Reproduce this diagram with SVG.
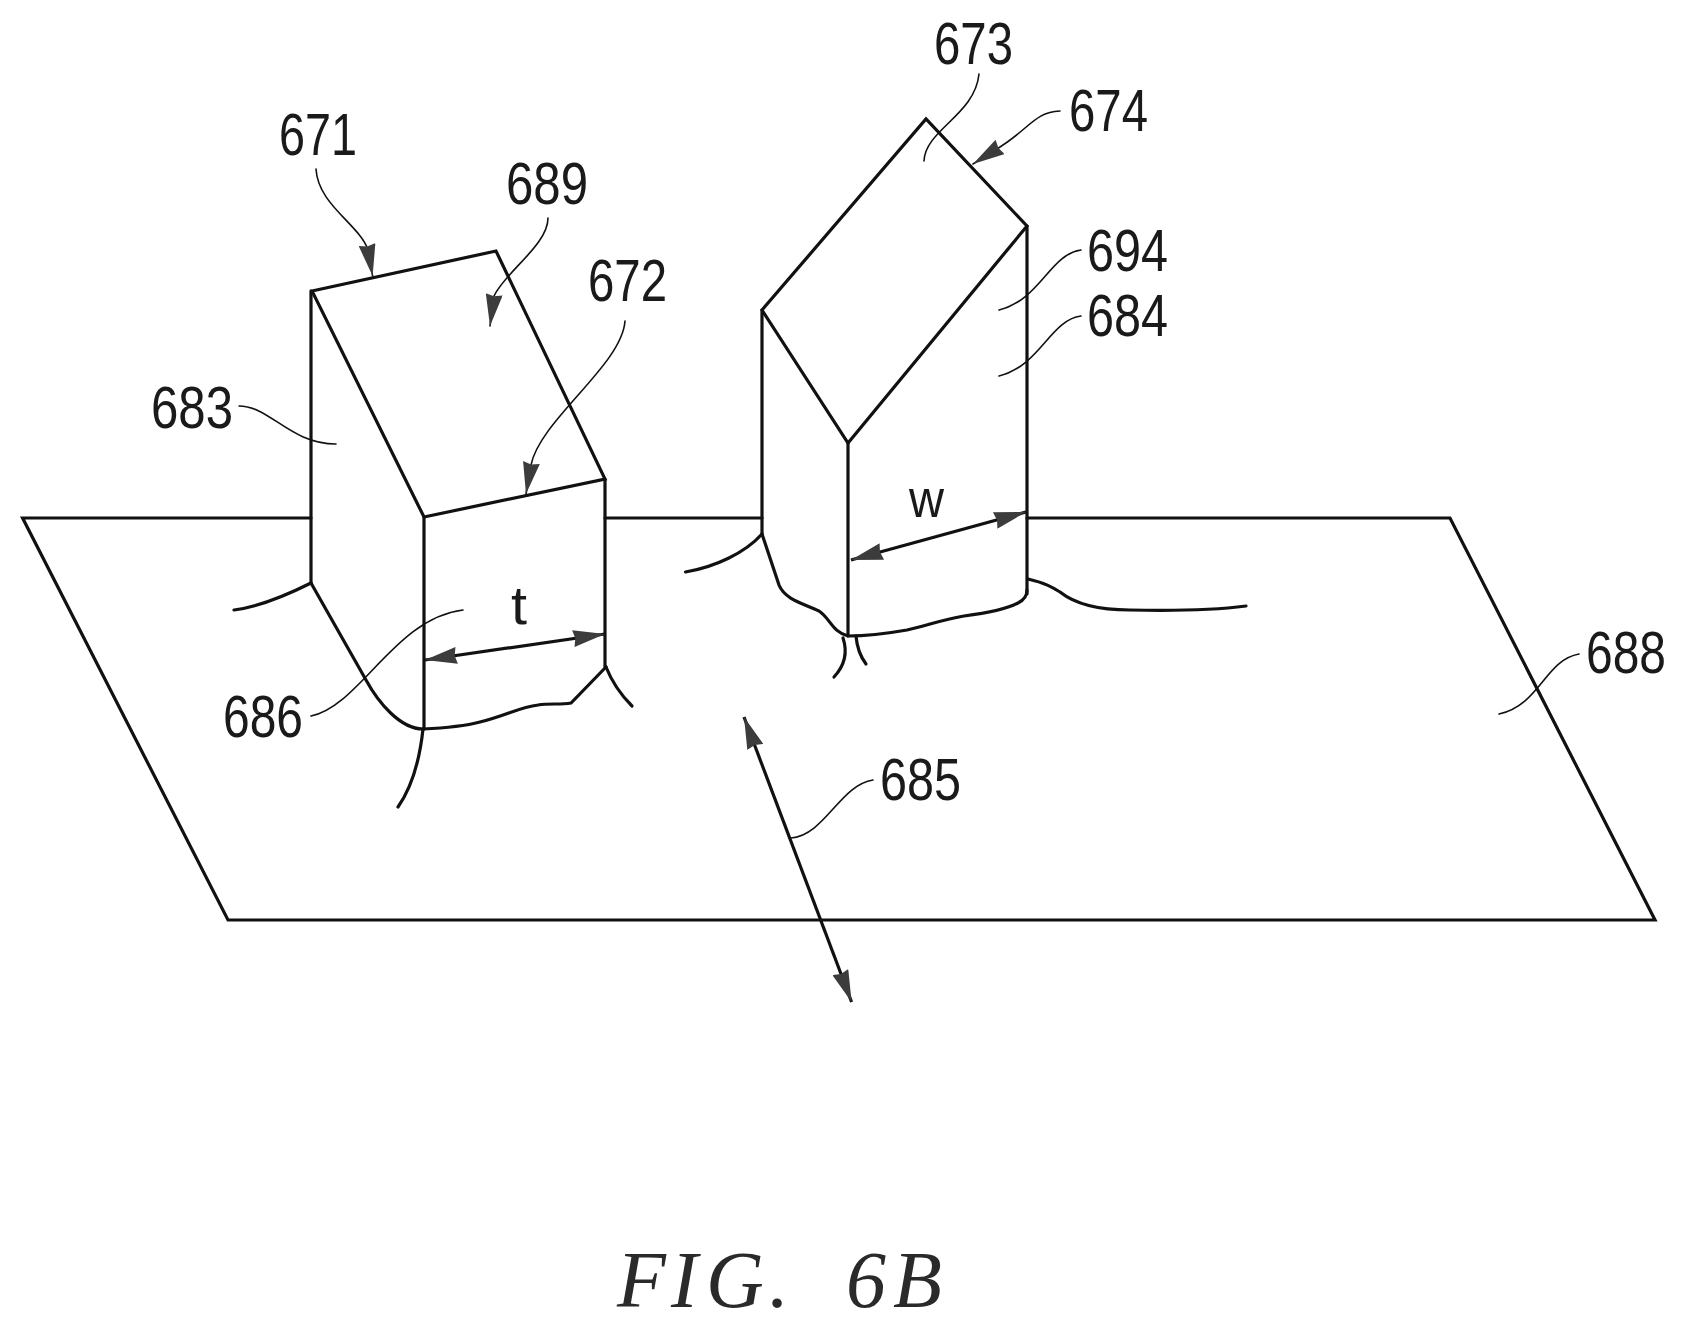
<svg xmlns="http://www.w3.org/2000/svg" width="1686" height="1329" viewBox="0 0 1686 1329">
<style>
.o{fill:none;stroke:#111;stroke-width:3.200;stroke-linejoin:miter;stroke-linecap:round}
.l{fill:none;stroke:#111;stroke-width:1.600;stroke-linecap:round}
.d{fill:none;stroke:#111;stroke-width:3.200}
text{font-family:"Liberation Sans",Arial,sans-serif;font-size:60px;fill:#1a1a1a}
.fig{font-family:"Liberation Serif","Times New Roman",serif;font-style:italic;font-size:80px;fill:#2a2a2a}
</style>
<defs>
<marker id="a" markerUnits="userSpaceOnUse" viewBox="0 0 32 17" refX="32" refY="8.500" markerWidth="32" markerHeight="17" orient="auto-start-reverse">
<path d="M0 0L32 8.500L0 17L2 8.500Z" fill="#3c3c3c"/>
</marker>
</defs>
<rect width="1686" height="1329" fill="#fff"/>
<g id="plane-688">
<path class="o" d="M311 518H22.600L228 920H1655L1450 518H1027"/>
<path class="o" d="M605 518H762"/>
</g>
<g id="block-671">
<path class="o" d="M312 291L496 251L605 479L424 517Z"/>
<path class="o" d="M311 291V583"/>
<path class="o" d="M424 517V729"/>
<path class="o" d="M605 479V667"/>
<path class="o" d="M311 583L366 680C378 702 400 729 423 729C445 728 465 726 480 722C505 716 520 707 538 705C550 703 560 705 571 703L606 667"/>
<path class="o" d="M311 583C285 596 258 607 234 610"/>
<path class="o" d="M606 667C612 682 622 696 632 706"/>
<path class="o" d="M423 729C420 757 412 787 398 807"/>
</g>
<g id="block-674">
<path class="o" d="M762 310L926 119L1027 226L848 443Z"/>
<path class="o" d="M762 310V534"/>
<path class="o" d="M848 443V636"/>
<path class="o" d="M1027 226V594"/>
<path class="o" d="M762 534L779 585C785 600 805 604 819 611C830 618 832 632 848 636C870 636 890 633 907 630C925 626 945 619 964 616C980 614 1005 610 1018 603C1024 600 1027 596 1027 590"/>
<path class="o" d="M762 534C745 553 715 567 685.500 572"/>
<path class="o" d="M1028 579C1045 583 1052 587 1060 592C1075 604 1100 610 1130 610C1175 611 1215 610 1246 606"/>
<path class="o" d="M843 638C847 650 847 663 834 677"/>
<path class="o" d="M856 636C857 648 860 656 866 664"/>
</g>
<g id="connectors">
<path class="d" d="M425 660L605 634" marker-start="url(#a)" marker-end="url(#a)"/>
<path class="d" d="M851 560L1026 512" marker-start="url(#a)" marker-end="url(#a)"/>
<path class="d" d="M744 717L851.600 1002" marker-start="url(#a)" marker-end="url(#a)"/>
<path class="l" d="M316 169C318 205 360 225 368 250L372.600 276" marker-end="url(#a)"/>
<path class="l" d="M548 218C548 245 505 272 494 296L490 326" marker-end="url(#a)"/>
<path class="l" d="M625 321C622 365 540 420 531 465L526 494" marker-end="url(#a)"/>
<path class="l" d="M239 406C270 406 290 444 336 444"/>
<path class="l" d="M463 610C395 618 360 706 311 716"/>
<path class="l" d="M979 74C975 115 925 130 924 161"/>
<path class="l" d="M1060 111C1035 112 1030 128 1000 147L973 164" marker-end="url(#a)"/>
<path class="l" d="M1081 250C1050 254 1040 300 999 310"/>
<path class="l" d="M1081 316C1050 320 1040 366 999 376"/>
<path class="l" d="M1579 654C1545 660 1540 705 1499 714"/>
<path class="l" d="M873 780C840 785 825 835 791 838"/>
</g>
<g id="labels">
<text x="279" y="155" textLength="78" lengthAdjust="spacingAndGlyphs">671</text>
<text x="506" y="204" textLength="82" lengthAdjust="spacingAndGlyphs">689</text>
<text x="588" y="301" textLength="79" lengthAdjust="spacingAndGlyphs">672</text>
<text x="151" y="428" textLength="82" lengthAdjust="spacingAndGlyphs">683</text>
<text x="223" y="737" textLength="80" lengthAdjust="spacingAndGlyphs">686</text>
<text x="934" y="64" textLength="79" lengthAdjust="spacingAndGlyphs">673</text>
<text x="1069" y="131" textLength="79" lengthAdjust="spacingAndGlyphs">674</text>
<text x="1087" y="271" textLength="81" lengthAdjust="spacingAndGlyphs">694</text>
<text x="1087" y="336" textLength="81" lengthAdjust="spacingAndGlyphs">684</text>
<text x="1586" y="673" textLength="80" lengthAdjust="spacingAndGlyphs">688</text>
<text x="880" y="800" textLength="81" lengthAdjust="spacingAndGlyphs">685</text>
<text x="511" y="624" style="font-size:54px" textLength="16" lengthAdjust="spacingAndGlyphs">t</text>
<text x="909" y="517" style="font-size:54px" textLength="35" lengthAdjust="spacingAndGlyphs">w</text>
<text class="fig" x="617 671 706 769 800 846 893" y="1307">FIG. 6B</text>
</g>
</svg>
